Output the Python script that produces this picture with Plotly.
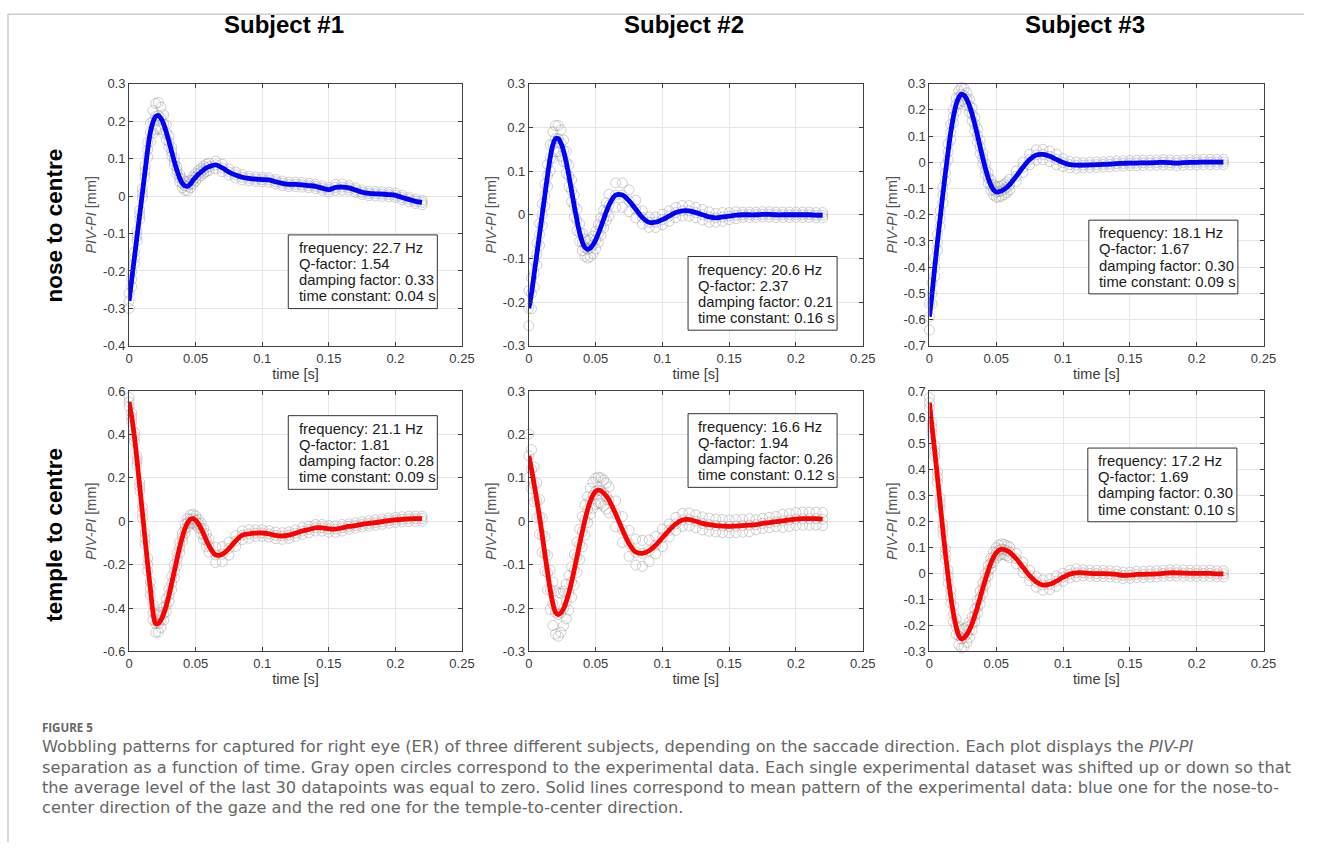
import plotly.graph_objects as go

W, H = 1317, 850

# ---------------- data ----------------
T = [0.000, 0.002, 0.004, 0.006, 0.008, 0.010, 0.012, 0.014, 0.016, 0.018, 0.020,
     0.022, 0.024, 0.026, 0.028, 0.030, 0.032, 0.034, 0.036, 0.038, 0.040, 0.042,
     0.044, 0.046, 0.048, 0.050, 0.052, 0.054, 0.056, 0.058, 0.060,
     0.065, 0.070, 0.075, 0.080, 0.085, 0.090, 0.095, 0.100, 0.105, 0.110, 0.115,
     0.120, 0.125, 0.130, 0.135, 0.140, 0.145, 0.150, 0.155, 0.160, 0.165, 0.170,
     0.175, 0.180, 0.185, 0.190, 0.195, 0.200, 0.205, 0.210, 0.215, 0.220]

# mean patterns (mm)
MEAN_1 = [-0.28, -0.222, -0.165, -0.107, -0.05, 0.008, 0.066, 0.124, 0.170, 0.198, 0.212,
          0.215, 0.207, 0.192, 0.170, 0.145, 0.118, 0.092, 0.068, 0.048, 0.034, 0.027,
          0.026, 0.032, 0.042, 0.050, 0.058, 0.064, 0.070, 0.075, 0.078,
          0.083, 0.075, 0.064, 0.056, 0.050, 0.047, 0.045, 0.044, 0.043, 0.038, 0.034,
          0.031, 0.031, 0.030, 0.028, 0.026, 0.021, 0.017, 0.023, 0.024, 0.022, 0.016,
          0.010, 0.007, 0.006, 0.005, 0.004, 0.002, -0.004, -0.009, -0.014, -0.017]
MEAN_2 = [-0.214, -0.18, -0.135, -0.09, -0.045, 0.00, 0.045, 0.09, 0.13, 0.16, 0.174,
          0.174, 0.164, 0.146, 0.120, 0.089, 0.055, 0.020, -0.012, -0.041, -0.062, -0.075,
          -0.079, -0.076, -0.069, -0.058, -0.043, -0.027, -0.010, 0.007, 0.022,
          0.045, 0.045, 0.032, 0.013, -0.006, -0.017, -0.017, -0.011, -0.003, 0.005, 0.009,
          0.009, 0.005, 0.000, -0.005, -0.007, -0.005, -0.003, -0.001, 0.000, 0.000, 0.000,
          0.001, 0.001, 0.000, 0.000, 0.000, 0.000, 0.000, 0.000, -0.001, -0.001]
MEAN_3 = [-0.589, -0.50, -0.40, -0.305, -0.215, -0.125, -0.04, 0.04, 0.115, 0.175, 0.220,
          0.248, 0.260, 0.255, 0.240, 0.215, 0.183, 0.145, 0.102, 0.058, 0.015, -0.025,
          -0.060, -0.087, -0.105, -0.113, -0.112, -0.109, -0.103, -0.095, -0.085,
          -0.053, -0.019, 0.011, 0.028, 0.030, 0.023, 0.011, -0.001, -0.009, -0.011, -0.011,
          -0.010, -0.009, -0.008, -0.007, -0.005, -0.004, -0.003, -0.003, -0.002, -0.002, -0.001,
          0.000, -0.001, -0.003, -0.001, 0.000, 0.000, 0.001, 0.001, 0.001, 0.001]
MEAN_4 = [0.55, 0.48, 0.39, 0.28, 0.16, 0.04, -0.08, -0.20, -0.31, -0.42, -0.472,
          -0.471, -0.455, -0.426, -0.387, -0.34, -0.286, -0.23, -0.174, -0.12, -0.073, -0.034,
          -0.007, 0.009, 0.012, 0.0045, -0.011, -0.033, -0.059, -0.087, -0.113,
          -0.155, -0.152, -0.126, -0.091, -0.064, -0.058, -0.055, -0.054, -0.058, -0.065, -0.068,
          -0.064, -0.055, -0.045, -0.038, -0.030, -0.030, -0.035, -0.036, -0.030, -0.024, -0.020,
          -0.014, -0.010, -0.006, -0.002, 0.003, 0.006, 0.009, 0.011, 0.012, 0.012]
MEAN_5 = [0.151, 0.12, 0.085, 0.048, 0.01, -0.032, -0.075, -0.118, -0.158, -0.19, -0.21,
          -0.215, -0.211, -0.201, -0.185, -0.165, -0.14, -0.112, -0.083, -0.053, -0.024, 0.003,
          0.027, 0.046, 0.060, 0.069, 0.0716, 0.07, 0.065, 0.058, 0.049,
          0.017, -0.019, -0.051, -0.071, -0.074, -0.068, -0.055, -0.038, -0.021, -0.006, 0.003,
          0.004, 0.000, -0.005, -0.008, -0.010, -0.011, -0.012, -0.011, -0.010, -0.009, -0.008,
          -0.005, -0.003, -0.001, 0.001, 0.003, 0.005, 0.006, 0.006, 0.006, 0.005]
MEAN_6 = [0.655, 0.56, 0.47, 0.37, 0.27, 0.17, 0.075, -0.012, -0.09, -0.155, -0.205,
          -0.24, -0.252, -0.247, -0.235, -0.217, -0.192, -0.162, -0.129, -0.093, -0.057, -0.022,
          0.010, 0.039, 0.062, 0.079, 0.089, 0.093, 0.091, 0.087, 0.081,
          0.056, 0.023, -0.009, -0.033, -0.045, -0.042, -0.030, -0.015, -0.003, 0.002, 0.002,
          0.000, -0.001, -0.001, -0.002, -0.004, -0.008, -0.007, -0.004, -0.004, -0.003, -0.002,
          0.000, 0.002, 0.002, 0.001, 0.000, 0.000, 0.000, 0.000, -0.002, -0.002]

# half-width of the experimental (gray circle) band around the mean (mm)
BAND_1 = [.02, .02, .015, .012, .012, .012, .015, .02, .025, .03, .035, .035, .03, .025, .02, .015,
          .012, .01, .01, .01, .012, .012, .012, .01, .01, .01, .01, .01, .01, .01, .01,
          .01, .01, .008, .008, .007, .006, .006, .006, .006, .006, .006, .006, .006, .006, .006, .006,
          .006, .006, .008, .008, .006, .006, .006, .006, .006, .006, .006, .006, .006, .006, .006, .006]
BAND_2 = [.04, .035, .03, .025, .025, .025, .025, .025, .03, .03, .03, .03, .03, .025, .025, .025,
          .025, .025, .025, .02, .02, .02, .02, .02, .02, .02, .02, .02, .02, .02, .025,
          .028, .028, .025, .02, .015, .012, .012, .012, .012, .012, .012, .012, .012, .012, .012, .01,
          .01, .008, .008, .006, .006, .006, .006, .006, .006, .006, .006, .006, .006, .006, .006, .006]
BAND_3 = [.05, .04, .035, .03, .03, .03, .03, .03, .03, .025, .025, .025, .025, .025, .025, .025,
          .025, .025, .025, .025, .02, .02, .02, .02, .02, .02, .02, .02, .02, .02, .02,
          .02, .02, .02, .02, .02, .02, .02, .015, .012, .012, .01, .01, .01, .01, .01, .01,
          .01, .01, .01, .01, .01, .01, .01, .01, .01, .01, .01, .01, .01, .01, .01, .01]
BAND_4 = [.02, .02, .02, .02, .02, .025, .025, .03, .03, .035, .04, .04, .035, .03, .03, .03,
          .03, .03, .03, .025, .02, .02, .02, .02, .02, .02, .02, .025, .025, .03, .03,
          .035, .035, .03, .025, .02, .02, .015, .015, .015, .015, .015, .015, .015, .015, .015, .015,
          .015, .015, .015, .015, .012, .012, .012, .012, .012, .012, .012, .012, .012, .012, .012, .012]
BAND_5 = [.05, .045, .04, .04, .04, .04, .04, .04, .045, .05, .05, .05, .045, .04, .04, .04,
          .035, .035, .035, .035, .035, .035, .03, .03, .03, .03, .03, .03, .03, .03, .03,
          .03, .03, .03, .03, .03, .025, .02, .02, .015, .015, .015, .015, .015, .015, .015, .015,
          .015, .015, .015, .015, .015, .012, .012, .012, .012, .015, .015, .015, .015, .015, .015, .015]
BAND_6 = [.02, .02, .02, .02, .02, .02, .02, .025, .025, .03, .03, .035, .035, .035, .03, .03,
          .025, .025, .025, .025, .02, .02, .02, .02, .02, .02, .02, .02, .02, .02, .02,
          .02, .02, .02, .02, .02, .02, .02, .015, .015, .015, .012, .012, .012, .012, .012, .012,
          .012, .012, .012, .012, .012, .012, .012, .012, .012, .012, .012, .012, .012, .012, .012, .012]

# fitted parameters shown in the boxes
FREQ = ["22.7", "20.6", "18.1", "21.1", "16.6", "17.2"]
QFAC = ["1.54", "2.37", "1.67", "1.81", "1.94", "1.69"]
DAMP = ["0.33", "0.21", "0.30", "0.28", "0.26", "0.30"]
TCONST = ["0.04", "0.16", "0.09", "0.09", "0.12", "0.10"]

SUBJECTS = ["Subject #1", "Subject #2", "Subject #3"]
DIRECTIONS = ["nose to centre", "temple to centre"]

X_TICKS = [0, 0.05, 0.1, 0.15, 0.2, 0.25]
Y_TICKS_1 = [-0.4, -0.3, -0.2, -0.1, 0, 0.1, 0.2, 0.3]
Y_TICKS_2 = [-0.3, -0.2, -0.1, 0, 0.1, 0.2, 0.3]
Y_TICKS_3 = [-0.7, -0.6, -0.5, -0.4, -0.3, -0.2, -0.1, 0, 0.1, 0.2, 0.3]
Y_TICKS_4 = [-0.6, -0.4, -0.2, 0, 0.2, 0.4, 0.6]
Y_TICKS_5 = [-0.3, -0.2, -0.1, 0, 0.1, 0.2, 0.3]
Y_TICKS_6 = [-0.3, -0.2, -0.1, 0, 0.1, 0.2, 0.3, 0.4, 0.5, 0.6, 0.7]

CAPTION_HEAD = "FIGURE 5"
CAPTION_LINES = [
    "Wobbling patterns for captured for right eye (ER) of three different subjects, depending on the saccade direction. Each plot displays the <i>PIV-PI</i>",
    "separation as a function of time. Gray open circles correspond to the experimental data. Each single experimental dataset was shifted up or down so that",
    "the average level of the last 30 datapoints was equal to zero. Solid lines correspond to mean pattern of the experimental data: blue one for the nose-to-",
    "center direction of the gaze and the red one for the temple-to-center direction.",
]

# ---------------- styling / layout ----------------
BLUE = "#0000ff"
RED = "#ff0000"
FONT = "Liberation Sans, Arial, sans-serif"
CAP_FONT = "DejaVu Sans, Open Sans, sans-serif"
HEAD_FONT = "Open Sans, Noto Sans, sans-serif"

MEANS = [MEAN_1, MEAN_2, MEAN_3, MEAN_4, MEAN_5, MEAN_6]
BANDS = [BAND_1, BAND_2, BAND_3, BAND_4, BAND_5, BAND_6]
YTICKS = [Y_TICKS_1, Y_TICKS_2, Y_TICKS_3, Y_TICKS_4, Y_TICKS_5, Y_TICKS_6]
COLORS = [BLUE, BLUE, BLUE, RED, RED, RED]

COL_PX = [(126.7, 464.0), (531.7, 870.0), (937.5, 1276.0)]
ROW_PX = [(78.0, 345.0), (391.0, 656.0)]
BOX_PX = [(288, 232), (693, 254), (1099, 217), (288, 416), (693, 414), (1098, 449)]
BOX_W, BOX_H = 151, 75
BOX_LINE_OFFSETS = [13.5, 29.8, 46.2, 62.6]


def fx(x):
    return x / W


def fy(y):
    return 1 - y / H


fig = go.Figure()
layout = dict(
    width=W, height=H, margin=dict(l=0, r=0, t=0, b=0),
    paper_bgcolor="white", plot_bgcolor="white", showlegend=False,
    font=dict(family=FONT, size=13, color="#3a3a3a"),
)
annotations = []
shapes = []

for i in range(6):
    r, c = divmod(i, 3)
    sfx = "" if i == 0 else str(i + 1)
    xref, yref = "x" + sfx, "y" + sfx
    mean, band, yt = MEANS[i], BANDS[i], YTICKS[i]

    cx = T + T + T
    cy = [m + b for m, b in zip(mean, band)] + list(mean) + [m - b for m, b in zip(mean, band)]
    fig.add_trace(go.Scatter(
        x=cx, y=cy, mode="markers", xaxis=xref, yaxis=yref, cliponaxis=False,
        marker=dict(symbol="circle-open", size=10, color="rgba(140,140,140,0.42)",
                    line=dict(width=1)),
        hoverinfo="skip"))
    fig.add_trace(go.Scatter(
        x=T, y=mean, mode="lines", xaxis=xref, yaxis=yref,
        line=dict(color=COLORS[i], width=4.8, shape="spline", smoothing=1.0)))

    x0, x1 = COL_PX[c]
    y0, y1 = ROW_PX[r]
    common = dict(showline=True, mirror="ticks", linecolor="#404040", linewidth=1,
                  ticks="inside", ticklen=4, tickcolor="#404040", tickwidth=1,
                  showgrid=True, gridcolor="#e6e6e6", gridwidth=1, zeroline=False,
                  tickfont=dict(family=FONT, size=13, color="#3a3a3a"))
    layout["xaxis" + sfx] = dict(
        common, domain=[fx(x0), fx(x1)], anchor=yref, range=[0, 0.25],
        tickvals=X_TICKS, ticktext=[f"{v:g}" for v in X_TICKS],
        title=dict(text="time [s]", standoff=0, font=dict(family=FONT, size=14.5, color="#3a3a3a")))
    layout["yaxis" + sfx] = dict(
        common, domain=[fy(y1), fy(y0)], anchor=xref, range=[yt[0], yt[-1]],
        tickvals=yt, ticktext=[f"{v:g}" for v in yt],
        title=dict(text="<i>PIV-PI</i> [mm]", standoff=2,
                   font=dict(family=FONT, size=14.5, color="#555555")))

    # parameter box: frame + four text lines
    bx, by = BOX_PX[i]
    shapes.append(dict(type="rect", xref="paper", yref="paper",
                       x0=fx(bx), x1=fx(bx + BOX_W), y0=fy(by + BOX_H), y1=fy(by),
                       fillcolor="white", line=dict(color="#333333", width=1), layer="above"))
    box_lines = [f"frequency: {FREQ[i]} Hz", f"Q-factor: {QFAC[i]}",
                 f"damping factor: {DAMP[i]}", f"time constant: {TCONST[i]} s"]
    for txt, off in zip(box_lines, BOX_LINE_OFFSETS):
        annotations.append(dict(
            xref="paper", yref="paper", x=fx(bx + 8.5), y=fy(by + off),
            xanchor="left", yanchor="middle", text=txt, showarrow=False,
            font=dict(family=FONT, size=14.8, color="#1a1a1a")))

# column titles
for c, name in enumerate(SUBJECTS):
    x0, x1 = COL_PX[c]
    annotations.append(dict(
        xref="paper", yref="paper", x=fx((x0 + x1) / 2 - 12), y=fy(18), xanchor="center",
        yanchor="middle", text=f"<b>{name}</b>", showarrow=False,
        font=dict(family=FONT, size=24, color="black")))

# row labels
for r, (name, yc) in enumerate(zip(DIRECTIONS, [222, 537])):
    annotations.append(dict(
        xref="paper", yref="paper", x=fx(51), y=fy(yc), xanchor="center", yanchor="middle",
        text=f"<b>{name}</b>", textangle=-90, showarrow=False,
        font=dict(family=FONT, size=22.5, color="black")))

# caption
annotations.append(dict(
    xref="paper", yref="paper", x=fx(36), y=fy(733), xanchor="left", yanchor="middle",
    text=f"<b>{CAPTION_HEAD}</b>", showarrow=False,
    font=dict(family=HEAD_FONT, size=11.5, color="#666666")))
for k, line in enumerate(CAPTION_LINES):
    annotations.append(dict(
        xref="paper", yref="paper", x=fx(36), y=fy(753 + 20.7 * k), xanchor="left",
        yanchor="middle", text=line, showarrow=False, align="left",
        font=dict(family=CAP_FONT, size=16.2, color="#666666")))

# thin page frame (left and top edges)
shapes.append(dict(type="line", xref="paper", yref="paper", x0=fx(4), x1=fx(4),
                   y0=0, y1=fy(7.5), line=dict(color="#cccccc", width=1.5)))
shapes.append(dict(type="line", xref="paper", yref="paper", x0=fx(4), x1=1,
                   y0=fy(7.5), y1=fy(7.5), line=dict(color="#cccccc", width=1.5)))

layout["annotations"] = annotations
layout["shapes"] = shapes
fig.update_layout(**layout)
fig.write_html("out.html")
